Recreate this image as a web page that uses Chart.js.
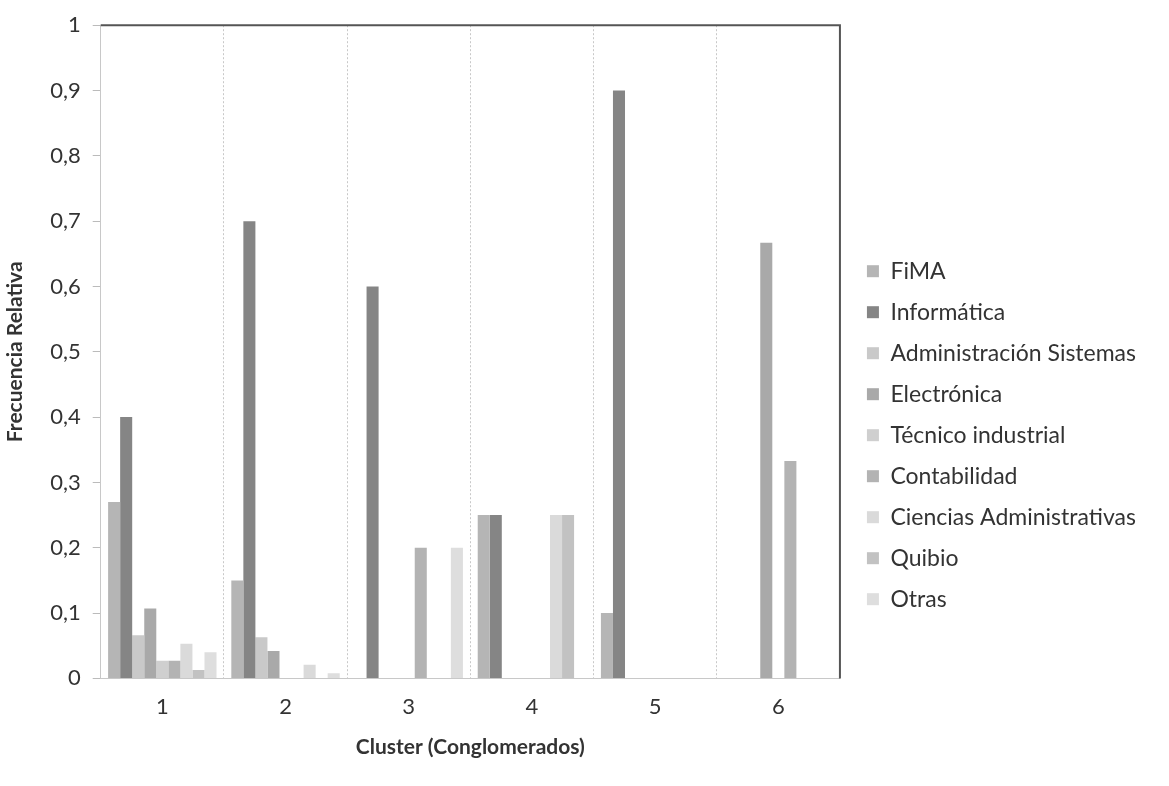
<!DOCTYPE html>
<html>
<head>
<meta charset="utf-8">
<script src="https://cdn.jsdelivr.net/npm/chart.js@4.4.0/dist/chart.umd.min.js"></script>
<style>
  html, body { margin: 0; padding: 0; background: #fff; }
  #wrap { width: 1169px; height: 786px; }
</style>
</head>
<body>
<div id="wrap"><canvas id="chart"></canvas></div>
<script>
const clusters = ['1', '2', '3', '4', '5', '6'];

const fima = [0.27, 0.15, 0, 0.25, 0.10, 0];
const informatica = [0.40, 0.70, 0.60, 0.25, 0.90, 0];
const adminSistemas = [0.066, 0.063, 0, 0, 0, 0];
const electronica = [0.107, 0.042, 0, 0, 0, 0.667];
const tecnicoIndustrial = [0.027, 0, 0, 0, 0, 0];
const contabilidad = [0.027, 0, 0.20, 0, 0, 0.333];
const cienciasAdmin = [0.053, 0.021, 0, 0.25, 0, 0];
const quibio = [0.013, 0, 0, 0.25, 0, 0];
const otras = [0.04, 0.008, 0.20, 0, 0, 0];

const seriesNames = ['FiMA', 'Informática', 'Administración Sistemas', 'Electrónica',
    'Técnico industrial', 'Contabilidad', 'Ciencias Administrativas', 'Quibio', 'Otras'];
const seriesValues = [fima, informatica, adminSistemas, electronica,
    tecnicoIndustrial, contabilidad, cienciasAdmin, quibio, otras];
const seriesColors = ['#b5b5b5', '#858585', '#c9c9c9', '#a9a9a9',
    '#cfcfcf', '#b3b3b3', '#dadada', '#c2c2c2', '#dedede'];

const yTicks = [0, 0.1, 0.2, 0.3, 0.4, 0.5, 0.6, 0.7, 0.8, 0.9, 1];

// dark frame on top and right like the original spreadsheet chart
const frame = {
    id: 'frame',
    afterDraw(chart) {
        const a = chart.chartArea;
        const ctx = chart.ctx;
        ctx.save();
        ctx.strokeStyle = '#555';
        ctx.lineWidth = 2;
        ctx.beginPath();
        ctx.moveTo(a.left, a.top);
        ctx.lineTo(a.right, a.top);
        ctx.lineTo(a.right, a.bottom);
        ctx.stroke();
        ctx.restore();
    }
};

const datasets = seriesNames.map((name, i) => ({
    label: name,
    data: seriesValues[i],
    backgroundColor: seriesColors[i],
    borderWidth: 0,
    categoryPercentage: 0.88,
    barPercentage: 1.0
}));

new Chart(document.getElementById('chart'), {
    type: 'bar',
    data: { labels: clusters, datasets: datasets },
    plugins: [frame],
    options: {
        responsive: true,
        maintainAspectRatio: false,
        animation: false,
        layout: { padding: { top: 12, right: 23, left: 3, bottom: 26 } },
        scales: {
            x: {
                grid: { color: '#c8c8c8', drawTicks: false, offset: true },
                border: { color: '#c8c8c8', dash: [2, 2] },
                ticks: { color: '#333', padding: 15, font: { family: 'Lato', size: 22 } },
                title: {
                    display: true,
                    text: 'Cluster (Conglomerados)',
                    color: '#333',
                    padding: { top: 0, bottom: 0 },
                    font: { family: 'Lato', size: 21, weight: 'bold' }
                }
            },
            y: {
                min: 0,
                max: 1,
                afterBuildTicks: axis => { axis.ticks = yTicks.map(v => ({ value: v })); },
                grid: { drawOnChartArea: false, drawTicks: true, tickLength: 8, color: '#bbb' },
                border: { color: '#c8c8c8', dash: [2, 2] },
                ticks: {
                    color: '#333',
                    padding: 12,
                    font: { family: 'Lato', size: 22 },
                    callback: v => (Math.round(v * 10) / 10).toString().replace('.', ',')
                },
                title: {
                    display: true,
                    text: 'Frecuencia Relativa',
                    color: '#333',
                    padding: { top: 0, bottom: 10 },
                    font: { family: 'Lato', size: 21, weight: 'bold' }
                }
            },
            // empty right axis only to keep a gap between the frame and the legend
            gap: {
                position: 'right',
                display: true,
                grid: { display: false },
                border: { display: false },
                ticks: { display: false },
                afterFit: axis => { axis.width = 9; }
            }
        },
        plugins: {
            tooltip: { enabled: false },
            legend: {
                position: 'right',
                maxWidth: 400,
                // empty title only pushes the items lower, as in the original
                title: { display: true, text: '', padding: { top: 84, bottom: 0 } },
                labels: {
                    color: '#333',
                    boxWidth: 12,
                    boxHeight: 12,
                    padding: 18,
                    font: { family: 'Lato', size: 23 }
                }
            }
        }
    }
});
</script>
</body>
</html>
